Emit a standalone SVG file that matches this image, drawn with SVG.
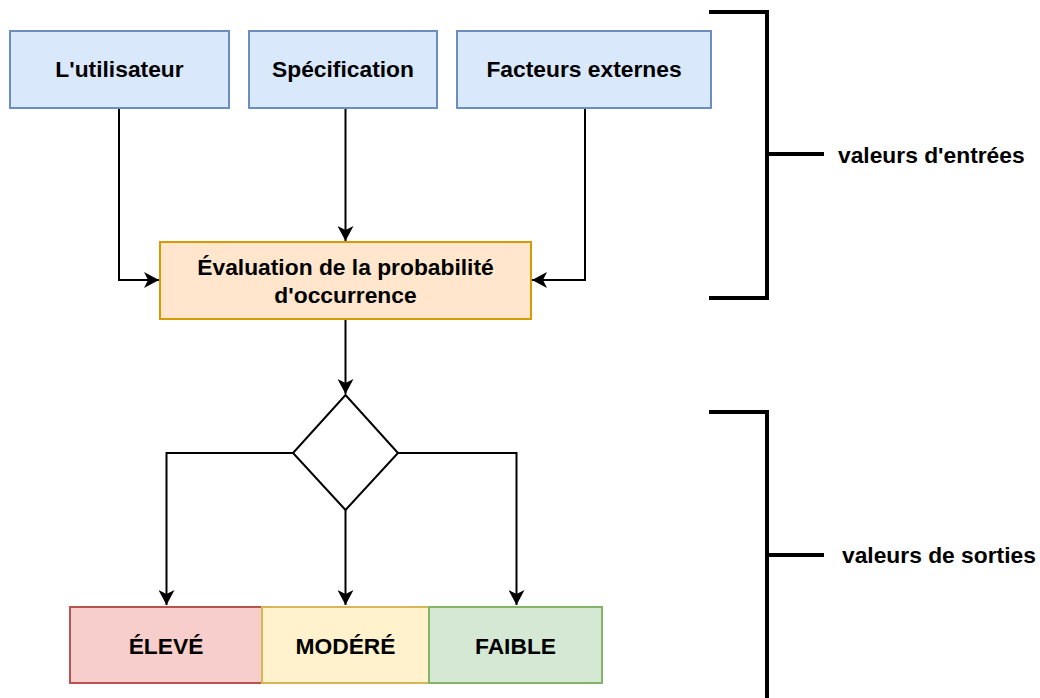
<svg xmlns="http://www.w3.org/2000/svg" width="1040" height="698" viewBox="0 0 1040 698">
<style>
text{font-family:"Liberation Sans",Arial,sans-serif;font-weight:bold;font-size:22.8px;fill:#000;text-anchor:middle}
.lbl{text-anchor:start}
.c{fill:none;stroke:#000;stroke-width:2}
.br{fill:none;stroke:#000;stroke-width:4}
.blue{fill:#dae8fc;stroke:#6c8ebf;stroke-width:2}
.orange{fill:#ffe6cc;stroke:#d79b00;stroke-width:2}
.red{fill:#f8cecc;stroke:#b85450;stroke-width:2}
.yellow{fill:#fff2cc;stroke:#d6b656;stroke-width:2}
.green{fill:#d5e8d4;stroke:#82b366;stroke-width:2}
</style>
<defs>
<marker id="arr" viewBox="0 0 16 16" refX="15" refY="8" markerWidth="16" markerHeight="16" markerUnits="userSpaceOnUse" orient="auto">
<path d="M15,8 L0,0 L4,8 L0,16 Z" fill="#000"/>
</marker>
</defs>
<rect width="1040" height="698" fill="#fff"/>
<g id="connectors">
<path class="c" d="M119,108 V280 H159" marker-end="url(#arr)"/>
<path class="c" d="M345.5,108 V241" marker-end="url(#arr)"/>
<path class="c" d="M585,108 V280 H532" marker-end="url(#arr)"/>
<path class="c" d="M345.5,319 V394" marker-end="url(#arr)"/>
<path class="c" d="M293,453 H166.5 V605" marker-end="url(#arr)"/>
<path class="c" d="M345.5,510 V605" marker-end="url(#arr)"/>
<path class="c" d="M398,453 H516.5 V605" marker-end="url(#arr)"/>
</g>
<g id="n1"><rect class="blue" x="10" y="31" width="219" height="77"/><text x="119.5" y="77">L'utilisateur</text></g>
<g id="n2"><rect class="blue" x="249" y="31" width="188" height="77"/><text x="343" y="77">Spécification</text></g>
<g id="n3"><rect class="blue" x="457" y="31" width="254" height="77"/><text x="584" y="77">Facteurs externes</text></g>
<g id="n4"><rect class="orange" x="160" y="242" width="371" height="77"/><text x="345.5" y="275">Évaluation de la probabilité</text><text x="345.5" y="303">d'occurrence</text></g>
<g id="n5"><path d="M345.5,395 L398,453 L345.5,510 L293,453 Z" fill="#fff" stroke="#000" stroke-width="2"/></g>
<g id="n6"><rect class="red" x="70" y="607" width="192" height="76"/><text x="166" y="654">ÉLEVÉ</text></g>
<g id="n7"><rect class="yellow" x="262" y="607" width="167" height="76"/><text x="345.5" y="654">MODÉRÉ</text></g>
<g id="n8"><rect class="green" x="429" y="607" width="173" height="76"/><text x="515.5" y="654">FAIBLE</text></g>
<g id="b1"><path class="br" d="M709,12 H767 V298 H709 M767,154 H824"/><text class="lbl" x="838" y="163">valeurs d'entrées</text></g>
<g id="b2"><path class="br" d="M709,412 H767 V698 M767,555 H824"/><text class="lbl" x="842" y="563">valeurs de sorties</text></g>
</svg>
